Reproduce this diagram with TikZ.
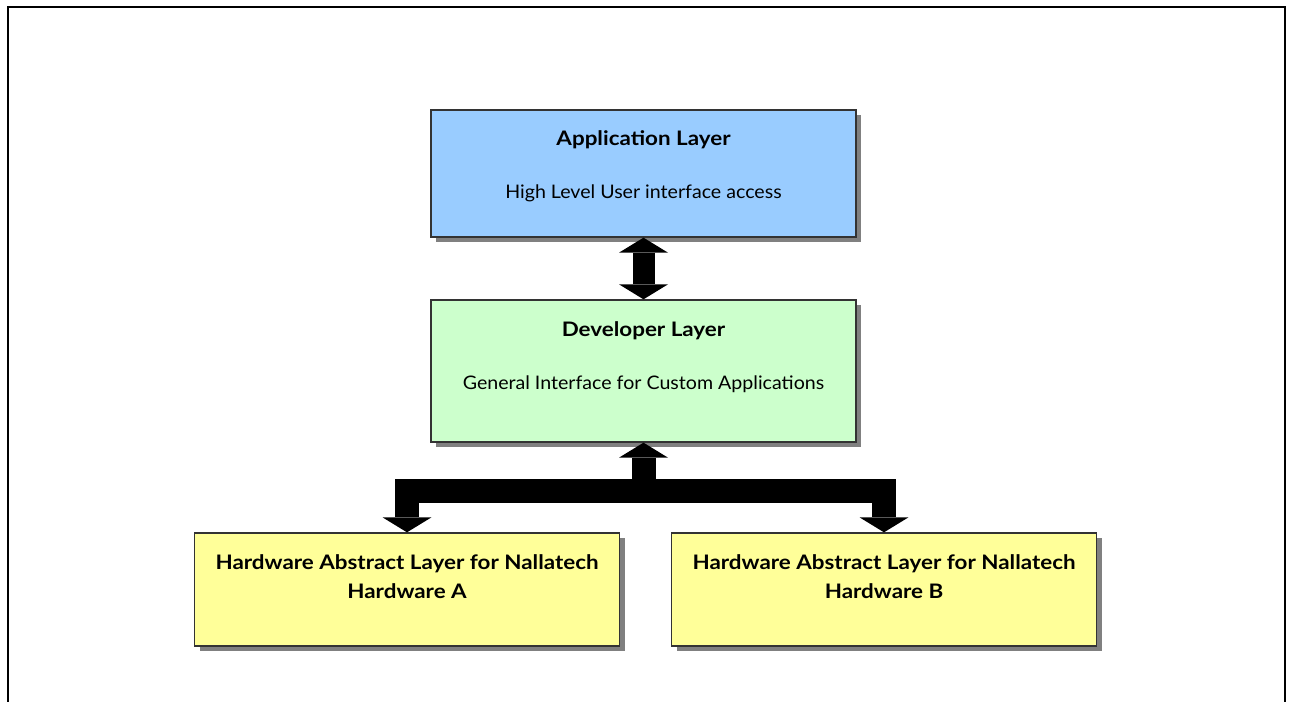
\documentclass[tikz,border=0pt]{standalone}
\usepackage{fontspec}
\setmainfont{Lato}
\newfontfamily\layertitlefont[FakeStretch=1.12]{Lato}
\newfontfamily\layertextfont[FakeStretch=1.05]{Lato}
\usetikzlibrary{positioning, arrows.meta, shadows}

\definecolor{appblue}{HTML}{99CCFF}
\definecolor{devgreen}{HTML}{CCFFCC}
\definecolor{halyellow}{HTML}{FFFF99}
\definecolor{edgegray}{HTML}{333333}

\begin{document}
\begin{tikzpicture}[x=0.75pt, y=-0.75pt]
\tikzset{
    layer/.style={draw=edgegray, line width=1pt, minimum width=318.75pt, inner sep=0pt,
        drop shadow={shadow xshift=3.75pt, shadow yshift=-3.75pt, fill=gray, opacity=1}},
    title/.style={font=\layertitlefont\fontsize{15}{21.75}\selectfont\bfseries, align=center, anchor=base},
    subtitle/.style={font=\layertextfont\fontsize{14}{21.75}\selectfont, anchor=base},
    blockhead/.tip={Triangle[width=36.75pt, length=11.25pt, line width=0pt]},
    bigarrow/.style={line width=18pt, -blockhead},
    dblarrow/.style={line width=16.5pt, blockhead-blockhead}
}
\useasboundingbox (0,0) rectangle (1290,702);

% outer frame, open at the bottom
\draw[line width=1.5pt] (8,702) -- (8,7) -- (1285,7) -- (1285,702);

% layers
\node[layer, fill=appblue, minimum height=95.25pt] (app) at (643.5,173.5) {};
\node[title] (apptitle) at ([yshift=-27pt]app.north) {Application Layer};
\node[subtitle] (appsub) at ([yshift=-66.75pt]app.north) {High Level User interface access};

\node[layer, fill=devgreen, minimum height=106.5pt] (dev) at (643.5,371) {};
\node[title] (devtitle) at ([yshift=-27.75pt]dev.north) {Developer Layer};
\node[subtitle] (devsub) at ([yshift=-67.5pt]dev.north) {General Interface for Custom Applications};

% anchor=base of a two-line node sits on its last line
\node[layer, fill=halyellow, minimum height=84.75pt] (hala) at (407,589.5) {};
\node[title] (halatitle) at ([yshift=-49.5pt]hala.north) {Hardware Abstract Layer for Nallatech\\Hardware A};

\node[layer, fill=halyellow, minimum height=84.75pt] (halb) at (884,589.5) {};
\node[title] (halbtitle) at ([yshift=-49.5pt]halb.north) {Hardware Abstract Layer for Nallatech\\Hardware B};

% connectors
\coordinate (hub) at ([yshift=-36pt]dev.south);
\draw[dblarrow] (app.south) -- (dev.north);
\draw[bigarrow] (hub) -- (dev.south);
\draw[line width=18pt, line join=miter, blockhead-blockhead] (hala.north) |- (hub) -| (halb.north);
\end{tikzpicture}
\end{document}
